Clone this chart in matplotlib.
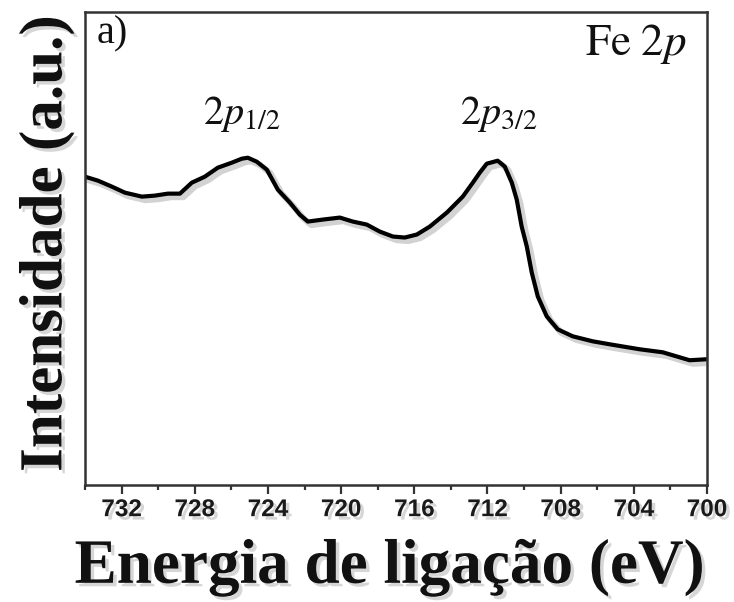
import matplotlib
matplotlib.use("Agg")
import matplotlib.pyplot as plt
import matplotlib.patheffects as pe
from matplotlib.ticker import MultipleLocator

plt.rcParams['mathtext.fontset'] = 'stix'

# Fe 2p XPS spectrum: binding energy (eV) and intensity (a.u.)
energia = [734.00, 733.29, 732.53, 731.82, 730.89, 730.18, 729.47, 728.81,
           728.16, 727.45, 726.74, 725.98, 725.43, 725.10, 724.61, 724.06,
           723.46, 722.80, 722.26, 721.82, 721.00, 720.07, 719.36, 718.60,
           717.89, 717.17, 716.52, 715.86, 715.15, 714.22, 713.35, 712.80,
           712.42, 712.04, 711.44, 711.05, 710.67, 710.40, 710.13, 709.85,
           709.58, 709.25, 708.76, 708.16, 707.34, 706.25, 705.32, 703.68,
           702.42, 700.95, 700.02]
intensidade = [309, 305, 299, 293, 289, 290, 292, 292,
               303, 309, 318, 323, 327, 328, 324, 316,
               296, 283, 271, 264, 266, 268, 264, 261,
               254, 249, 248, 251, 259, 273, 289, 303,
               313, 322, 325, 319, 303, 286, 259, 239,
               213, 189, 169, 156, 149, 144, 141, 136,
               133, 125, 126]

xticks = [732, 728, 724, 720, 716, 712, 708, 704, 700]

fig = plt.figure(figsize=(7.34, 6.02), dpi=100)
ax = fig.add_axes([0.1158, 0.1944, 0.8474, 0.7856])

shadow = [pe.SimplePatchShadow(offset=(2.5, -2.5), shadow_rgbFace='0.55', alpha=0.35),
          pe.Normal()]
line_shadow = [pe.SimpleLineShadow(offset=(2.5, -2.5), shadow_color='0.5', alpha=0.35, linewidth=4.5),
               pe.Normal()]

ax.plot(energia, intensidade, color='black', lw=3.0, path_effects=line_shadow,
        solid_joinstyle='round')

ax.set_xlim(734.0, 700)
ax.set_ylim(0, 474)
ax.set_xticks(xticks)
ax.xaxis.set_minor_locator(MultipleLocator(2))
ax.set_yticks([])

for s in ax.spines.values():
    s.set_color('#333333')
    s.set_linewidth(1.8)

ax.tick_params(axis='x', which='major', direction='out', length=6.5, width=1.6,
               color='#333333', pad=3, labelsize=17.5, labelcolor='#1a1a1a')
ax.tick_params(axis='x', which='minor', direction='out', length=3.5, width=1.6,
               color='#333333')
for lab in ax.get_xticklabels():
    lab.set_fontfamily('Liberation Sans')
    lab.set_fontweight('bold')
    lab.set_path_effects(shadow)

ax.set_xlabel('Energia de ligação (eV)', fontfamily='Liberation Serif',
              fontweight='bold', fontsize=45.5, color='#111111')
ax.xaxis.label.set_va('center')
ax.xaxis.set_label_coords(0.49, -0.175)
ax.xaxis.label.set_path_effects(shadow)

ax.set_ylabel('Intensidade (a.u.)', fontfamily='Liberation Serif',
              fontweight='bold', fontsize=44, color='#111111')
ax.yaxis.label.set_va('center')
ax.yaxis.set_label_coords(-0.062, 0.51)
ax.yaxis.label.set_path_effects(shadow)

ax.text(0.018, 0.993, 'a)', transform=ax.transAxes, ha='left', va='top',
        fontfamily='Liberation Serif', fontsize=29, color='#111111')
ax.text(0.968, 0.978, r'$\mathrm{Fe\ 2}p$', transform=ax.transAxes, ha='right', va='top',
        fontsize=32.5, color='#111111')
ax.text(725.45, 352, r'$2p_{1/2}$', ha='center', va='bottom', fontsize=29, color='#111111')
ax.text(711.4, 352, r'$2p_{3/2}$', ha='center', va='bottom', fontsize=29, color='#111111')

fig.savefig('out.png', dpi=100)
